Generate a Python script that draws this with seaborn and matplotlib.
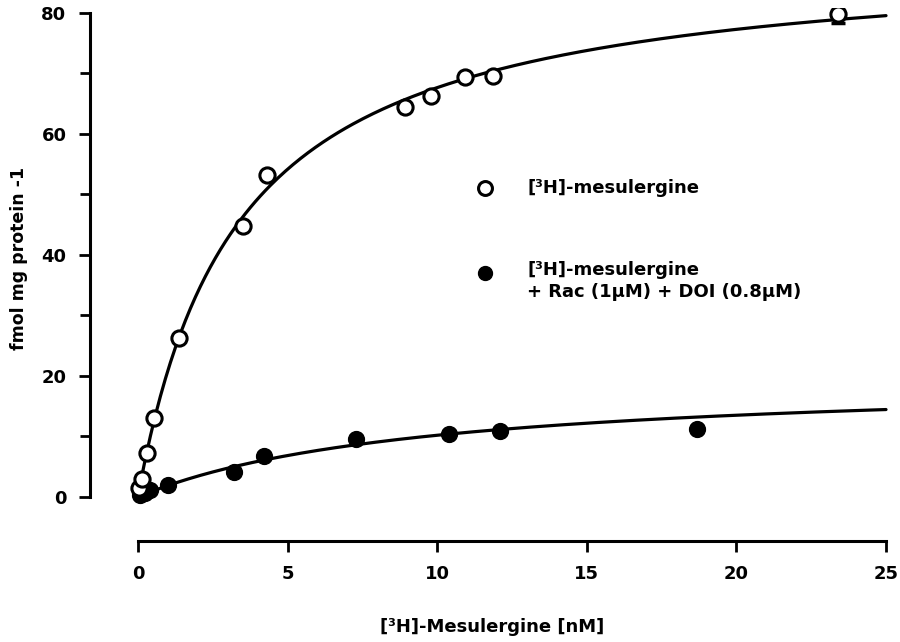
import numpy as np
import pandas as pd
import matplotlib
matplotlib.use("Agg")
import matplotlib.pyplot as plt
import seaborn as sns

# ---- data ----
open_x = [0.03, 0.13, 0.30, 0.54, 1.37, 3.51, 4.31, 8.93, 9.80, 10.94, 11.87, 23.4]
open_y = [1.5, 3.0, 7.3, 13.1, 26.3, 44.8, 53.2, 64.5, 66.3, 69.4, 69.6, 79.8]
open_err = [0, 0, 0, 0, 0, 0, 0, 0, 0, 0, 0, 1.4]

filled_x = [0.07, 0.23, 0.40, 1.0, 3.2, 4.2, 7.3, 10.4, 12.1, 18.7]
filled_y = [0.3, 0.7, 1.2, 2.0, 4.1, 6.8, 9.6, 10.4, 10.9, 11.2]

# one-site binding fit parameters (Bmax, Kd) for the drawn curves
fit_open = (90.1, 3.32)
fit_filled = (20.0, 9.6)

x_ticks = [0, 5, 10, 15, 20, 25]
y_ticks = [0, 20, 40, 60, 80]
y_minor = [10, 30, 50, 70]

legend_labels = ["[³H]-mesulergine", "[³H]-mesulergine\n+ Rac (1μM) + DOI (0.8μM)"]
x_label = "[³H]-Mesulergine [nM]"
y_label = "fmol mg protein -1"

sns.set_theme(style="white")
plt.rcParams['font.family'] = ['DejaVu Sans']
plt.rcParams['font.weight'] = 'bold'
plt.rcParams['text.color'] = 'black'
plt.rcParams['axes.labelcolor'] = 'black'
plt.rcParams['xtick.color'] = 'black'
plt.rcParams['ytick.color'] = 'black'

fig = plt.figure(figsize=(9, 6.42), dpi=100)
ax = fig.add_axes([0.1, 101 / 642, 805 / 900, 533 / 642])

xs = np.linspace(0, 25, 300)
curves = pd.DataFrame({
    "x": np.concatenate([xs, xs]),
    "y": np.concatenate([fit_open[0] * xs / (fit_open[1] + xs),
                         fit_filled[0] * xs / (fit_filled[1] + xs)]),
    "s": ["open"] * len(xs) + ["filled"] * len(xs),
})
sns.lineplot(data=curves, x="x", y="y", units="s", estimator=None,
             color="black", lw=2.3, ax=ax, legend=False)

ax.errorbar(open_x, open_y, yerr=open_err, fmt="none", ecolor="black",
            elinewidth=2, capsize=5, capthick=2.5, zorder=3)
sns.scatterplot(x=filled_x, y=filled_y, ax=ax, s=130, color="black",
                edgecolor="black", linewidth=1, zorder=4)
sns.scatterplot(x=open_x, y=open_y, ax=ax, s=120, facecolor="white",
                edgecolor="black", linewidth=2.2, zorder=5)

ax.set_xlim(-1.6, 25.3)
ax.set_ylim(-7.27, 80.8)
ax.set_xticks(x_ticks)
ax.set_yticks(y_ticks)
ax.set_yticks(y_minor, minor=True)
ax.spines["top"].set_visible(False)
ax.spines["right"].set_visible(False)
ax.spines["left"].set_bounds(0, 80)
ax.spines["bottom"].set_bounds(0, 25)
for sp in ("left", "bottom"):
    ax.spines[sp].set_linewidth(2.2)
    ax.spines[sp].set_color("black")
ax.tick_params(axis="both", which="major", direction="out", length=8,
               width=2, color="black", labelsize=13, pad=9, labelcolor="black")
ax.tick_params(axis="y", which="minor", direction="out", length=7,
               width=2, color="black", left=True)
ax.tick_params(axis="x", bottom=True)
ax.tick_params(axis="y", left=True)
for lab in ax.get_xticklabels() + ax.get_yticklabels():
    lab.set_fontweight("bold")

ax.set_xlabel(x_label, fontsize=13, fontweight="bold", color="black")
ax.set_ylabel(y_label, fontsize=12.5, fontweight="bold", color="black")
ax.xaxis.set_label_coords((492 - 90) / 805, -(618 - 541) / 533)
ax.yaxis.set_label_coords((28 - 90) / 805, (541 - 258) / 533)
ax.grid(False)

# manual legend
ax.plot([0.491], [0.662], marker="o", ms=10, mfc="white", mec="black", mew=2.2,
        transform=ax.transAxes, ls="none")
ax.text(0.543, 0.662, legend_labels[0], transform=ax.transAxes, fontsize=13,
        fontweight="bold", va="center", ha="left", color="black")
ax.plot([0.491], [0.503], marker="o", ms=10, mfc="black", mec="black",
        transform=ax.transAxes, ls="none")
ax.text(0.543, 0.525, legend_labels[1], transform=ax.transAxes, fontsize=13,
        fontweight="bold", va="top", ha="left", linespacing=1.25, color="black")

fig.savefig("out.png", dpi=100)
